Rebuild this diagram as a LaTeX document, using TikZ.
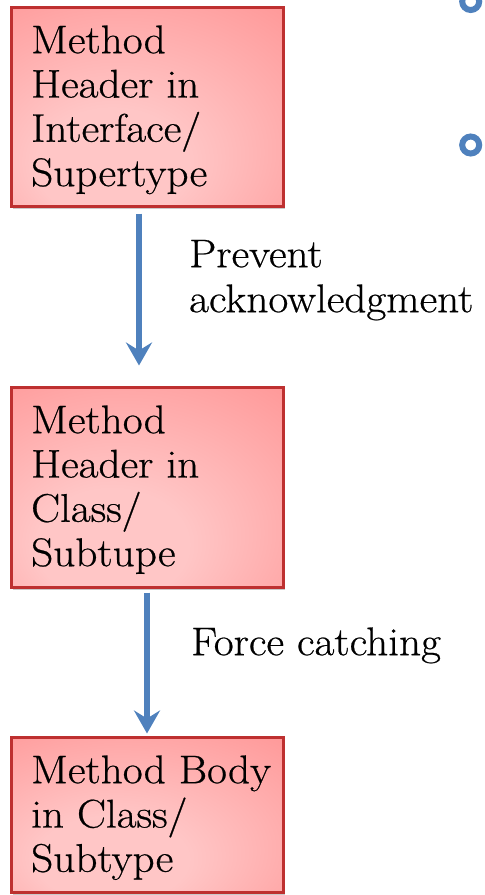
\documentclass[tikz,border=0pt]{standalone}
\usepackage{fontspec}
\setmainfont{Latin Modern Roman}[FakeStretch=1.08, FakeBold=0.6]
\usetikzlibrary{arrows.meta,shadows}
\definecolor{boxline}{RGB}{190,48,48}
\definecolor{pinkL}{RGB}{255,198,198}
\definecolor{redD}{RGB}{255,108,108}
\definecolor{arrblue}{RGB}{79,129,189}
\pgfdeclareradialshading{boxshade}{\pgfpoint{-8bp}{-18bp}}{color(0bp)=(pinkL); color(14bp)=(pinkL); color(72bp)=(redD)}
\newcommand{\fl}{\rule{0pt}{30pt}}
\tikzset{
  box/.style={rectangle, draw=boxline, line width=3pt, shading=boxshade,
    minimum width=272pt, inner sep=0pt,
    drop shadow={shadow xshift=2pt, shadow yshift=-3pt, opacity=0.35, fill=black!60}},
  boxtext/.style={anchor=north west, inner sep=0pt, align=left,
    font=\fontsize{40}{44.3}\selectfont},
  lbl/.style={anchor=north west, inner sep=0pt, align=left,
    font=\fontsize{40}{45}\selectfont},
  arr/.style={draw=arrblue, line width=5.5pt,
    -{Stealth[length=23pt, width=26pt, inset=8pt]}},
  bullet/.style={circle, draw=arrblue, line width=6pt, minimum size=17pt, inner sep=0pt}
}
\begin{document}
\begin{tikzpicture}[x=1pt,y=-1pt]
\useasboundingbox (0,0) rectangle (485,895);
\node[bullet] (c1) at (470.7,1.5) {};
\node[bullet] (c2) at (470.7,145) {};

\node[box, minimum height=199pt] (b1) at (147,106.5) {};
\node[box, minimum height=200pt] (b2) at (147,487) {};
\node[box, minimum height=155pt] (b3) at (147,814.5) {};

\node[boxtext] (t1) at (31,23) {\fl Method\\Header in\\Interface/\\Supertype};
\node[boxtext] (t2) at (31,403) {\fl Method\\Header in\\Class/\\Subtupe};
\node[boxtext] (t3) at (31,753) {\fl Method Body\\in Class/\\Subtype};

\draw[arr] ([shift={(-8,6)}]b1.south) -- ([shift={(-8,-20)}]b2.north);
\draw[arr] ([shift={(0,4)}]b2.south) -- ([shift={(0,-2)}]b3.north);

\node[lbl] (l1) at (189,237) {\fl Prevent\\acknowledgment};
\node[lbl] (l2) at (191,625) {\fl Force catching};
\end{tikzpicture}
\end{document}
